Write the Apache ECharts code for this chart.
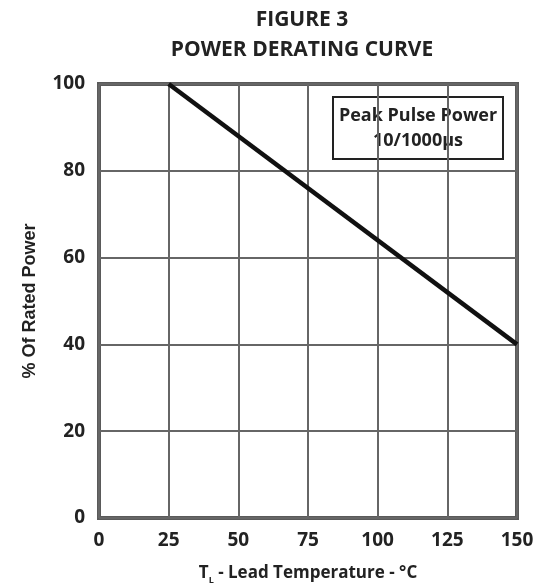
<!DOCTYPE html>
<html><head><meta charset="utf-8">
<script src="https://cdn.jsdelivr.net/npm/echarts@6/dist/echarts.min.js"></script>
<style>html,body{margin:0;padding:0;background:#fff}#c{width:543px;height:587px}</style>
</head><body><div id="c"></div>
<script>
const temps = [25, 150];
const ratedPower = [100, 40];
const xTicks = [0, 25, 50, 75, 100, 125, 150];
const yTicks = [0, 20, 40, 60, 80, 100];

const FONT = '"Open Sans"';
const chart = echarts.init(document.getElementById('c'));
chart.setOption({
  animation: false,
  title: {
    text: 'FIGURE 3\nPOWER DERATING CURVE',
    left: 297, top: 0, textAlign: 'center',
    textStyle: { fontFamily: FONT, fontWeight: 'bold', fontSize: 21, color: '#222', lineHeight: 30 }
  },
  grid: { left: 99, right: 26, top: 84, bottom: 69, show: true, borderColor: '#5a5a5a', borderWidth: 4, backgroundColor: '#fff',
          containLabel: false, outerBoundsMode: 'none' },
  xAxis: {
    type: 'value', min: xTicks[0], max: xTicks[xTicks.length-1], interval: 25,
    axisLine: { show: false }, axisTick: { show: false },
    splitLine: { lineStyle: { color: '#666', width: 2 } },
    axisLabel: { fontFamily: FONT, fontWeight: 'bold', fontSize: 19, color: '#222', margin: 13 },
    name: 'T{sub|L} - Lead Temperature - °C', nameLocation: 'middle', nameGap: 44,
    nameTextStyle: { fontFamily: FONT, fontWeight: 'bold', fontSize: 17, color: '#222',
      rich: { sub: { fontFamily: FONT, fontWeight: 'bold', fontSize: 9, color: '#222', verticalAlign: 'bottom', padding: [14, 0, 0, 0] } } }
  },
  yAxis: {
    type: 'value', min: yTicks[0], max: yTicks[yTicks.length-1], interval: 20,
    axisLine: { show: false }, axisTick: { show: false },
    splitLine: { lineStyle: { color: '#666', width: 2 } },
    axisLabel: { fontFamily: FONT, fontWeight: 'bold', fontSize: 19, color: '#222', margin: 14 },
    name: '% Of Rated Power', nameLocation: 'middle', nameGap: 60,
    nameTextStyle: { fontFamily: '"Liberation Sans"', fontWeight: 'bold', fontSize: 18, color: '#222' }
  },
  series: [{
    type: 'line', data: temps.map((t, i) => [t, ratedPower[i]]),
    symbol: 'none', lineStyle: { color: '#111', width: 4.5 }, z: 5
  }],
  graphic: [{
    type: 'group', left: 332, top: 96, z: 10,
    children: [
      { type: 'rect', shape: { x: 0, y: 0, width: 170, height: 62 }, style: { fill: '#fff', stroke: '#222', lineWidth: 2 } },
      { type: 'text', style: { x: 85, y: 19, text: 'Peak Pulse Power', align: 'center', verticalAlign: 'middle', font: 'bold 18px "Open Sans"', fill: '#222' } },
      { type: 'text', style: { x: 85, y: 44, text: '10/1000µs', align: 'center', verticalAlign: 'middle', font: 'bold 18px "Open Sans"', fill: '#222' } }
    ]
  }]
});
</script></body></html>
